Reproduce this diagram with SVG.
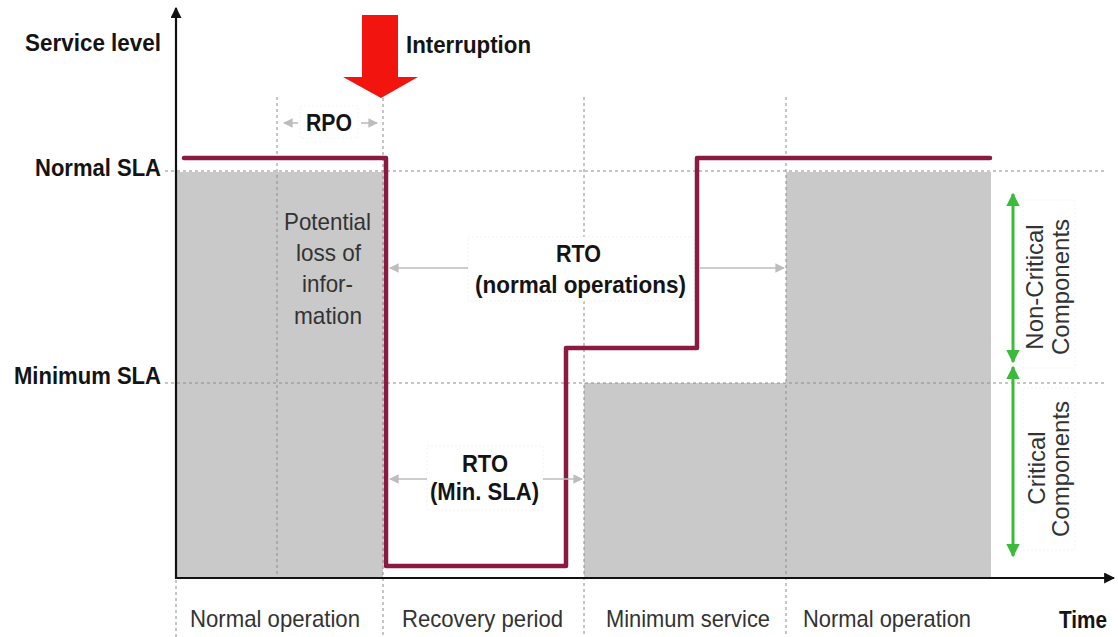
<svg xmlns="http://www.w3.org/2000/svg" width="1118" height="637" viewBox="0 0 1118 637">
  <style>
    text { font-family: "Liberation Sans", Arial, sans-serif; font-size: 24px; }
    .b { font-weight: bold; fill: #141414; }
    .r { fill: #333333; }
    .band { fill: #c9c9c9; }
    .grid { stroke: #8c8c8c; stroke-width: 1; stroke-dasharray: 3 3; fill: none; }
    .box { fill: #ffffff; stroke: #f3f3f3; stroke-width: 1; stroke-dasharray: 2 2; }
    .axis { stroke: #111111; stroke-width: 2.2; fill: none; }
    .span { stroke: #bdbdbd; stroke-width: 1.6; fill: none; }
    .comp { stroke: #3cba3c; stroke-width: 3; fill: none; }
    .level { stroke: #8a1a3e; stroke-width: 4.5; fill: none; stroke-linejoin: round; stroke-linecap: round; }
  </style>
  <defs>
    <marker id="axisHead" viewBox="0 0 10 10" refX="9" refY="5" markerWidth="5" markerHeight="5" orient="auto" markerUnits="strokeWidth">
      <path d="M0,0 L10,5 L0,10 Z" fill="#111111"/>
    </marker>
    <marker id="spanHead" viewBox="0 0 10 10" refX="9" refY="5" markerWidth="6" markerHeight="6" orient="auto" markerUnits="strokeWidth">
      <path d="M0,0 L10,5 L0,10 Z" fill="#bdbdbd"/>
    </marker>
    <marker id="compHead" viewBox="0 0 10 10" refX="9" refY="5" markerWidth="4.5" markerHeight="4.5" orient="auto-start-reverse" markerUnits="strokeWidth">
      <path d="M0,0 L10,5 L0,10 Z" fill="#3cba3c"/>
    </marker>
  </defs>

  <!-- shaded service bands -->
  <g id="bands">
    <rect class="band" x="177" y="172" width="206" height="406"/>
    <rect class="band" x="584" y="383" width="202" height="195"/>
    <rect class="band" x="786" y="172" width="205" height="406"/>
  </g>

  <!-- reference grid -->
  <g id="grid">
    <line class="grid" x1="165" y1="171" x2="1106" y2="171"/>
    <line class="grid" x1="165" y1="383" x2="1106" y2="383"/>
    <line class="grid" x1="277" y1="97" x2="277" y2="578"/>
    <line class="grid" x1="383" y1="98" x2="383" y2="637"/>
    <line class="grid" x1="584" y1="97" x2="584" y2="637"/>
    <line class="grid" x1="786" y1="97" x2="786" y2="637"/>
    <line class="grid" x1="176" y1="580" x2="176" y2="637"/>
  </g>

  <!-- label backgrounds -->
  <g id="label-boxes">
    <rect class="box" x="300" y="106" width="58" height="32"/>
    <rect class="box" x="468" y="237" width="226" height="64"/>
    <rect class="box" x="427" y="446" width="116" height="64"/>
    <rect class="box" x="1023" y="200" width="52" height="168"/>
    <rect class="box" x="1023" y="388" width="52" height="162"/>
  </g>

  <g id="connectors">
    <!-- axes -->
    <line class="axis" x1="176" y1="579" x2="176" y2="8" marker-end="url(#axisHead)"/>
    <line class="axis" x1="175" y1="578" x2="1114" y2="578" marker-end="url(#axisHead)"/>
    <!-- service level over time -->
    <path class="level" d="M184,158 H386 V566 H566 V348 H697 V158 H990"/>
    <!-- RPO span -->
    <line class="span" x1="298" y1="123" x2="284" y2="123" marker-end="url(#spanHead)"/>
    <line class="span" x1="361" y1="123" x2="377" y2="123" marker-end="url(#spanHead)"/>
    <!-- RTO normal operations span -->
    <line class="span" x1="468" y1="268" x2="390" y2="268" marker-end="url(#spanHead)"/>
    <line class="span" x1="700" y1="268" x2="784" y2="268" marker-end="url(#spanHead)"/>
    <!-- RTO minimum SLA span -->
    <line class="span" x1="427" y1="479" x2="390" y2="479" marker-end="url(#spanHead)"/>
    <line class="span" x1="543" y1="479" x2="582" y2="479" marker-end="url(#spanHead)"/>
    <!-- component ranges -->
    <line class="comp" x1="1013" y1="194" x2="1013" y2="362" marker-start="url(#compHead)" marker-end="url(#compHead)"/>
    <line class="comp" x1="1013" y1="367" x2="1013" y2="556" marker-start="url(#compHead)" marker-end="url(#compHead)"/>
  </g>

  <!-- interruption marker -->
  <g id="interruption">
    <polygon points="362,15 398,15 398,77 418,77 381,98 343,77 362,77" fill="#f2140f"/>
    <text class="b" x="406" y="53" textLength="125" lengthAdjust="spacingAndGlyphs">Interruption</text>
  </g>

  <g id="axis-labels">
    <text class="b" x="25" y="51" textLength="136" lengthAdjust="spacingAndGlyphs">Service level</text>
    <text class="b" x="35" y="176" textLength="126" lengthAdjust="spacingAndGlyphs">Normal SLA</text>
    <text class="b" x="14" y="384" textLength="147" lengthAdjust="spacingAndGlyphs">Minimum SLA</text>
    <text class="b" x="1059" y="628" textLength="48" lengthAdjust="spacingAndGlyphs">Time</text>
  </g>

  <g id="rpo">
    <text class="b" x="306" y="131" textLength="46" lengthAdjust="spacingAndGlyphs">RPO</text>
  </g>

  <g id="loss">
    <text class="r" x="284" y="230" textLength="87" lengthAdjust="spacingAndGlyphs">Potential</text>
    <text class="r" x="296" y="261" textLength="65" lengthAdjust="spacingAndGlyphs">loss of</text>
    <text class="r" x="302" y="292" textLength="51" lengthAdjust="spacingAndGlyphs">infor-</text>
    <text class="r" x="294" y="324" textLength="68" lengthAdjust="spacingAndGlyphs">mation</text>
  </g>

  <g id="rto-normal">
    <text class="b" x="556" y="262" textLength="45" lengthAdjust="spacingAndGlyphs">RTO</text>
    <text class="b" x="475" y="293" textLength="211" lengthAdjust="spacingAndGlyphs">(normal operations)</text>
  </g>

  <g id="rto-min">
    <text class="b" x="462" y="472" textLength="46" lengthAdjust="spacingAndGlyphs">RTO</text>
    <text class="b" x="430" y="500" textLength="109" lengthAdjust="spacingAndGlyphs">(Min. SLA)</text>
  </g>

  <g id="phases">
    <text class="r" x="190" y="627" textLength="170" lengthAdjust="spacingAndGlyphs">Normal operation</text>
    <text class="r" x="402" y="627" textLength="161" lengthAdjust="spacingAndGlyphs">Recovery period</text>
    <text class="r" x="606" y="627" textLength="164" lengthAdjust="spacingAndGlyphs">Minimum service</text>
    <text class="r" x="803" y="627" textLength="168" lengthAdjust="spacingAndGlyphs">Normal operation</text>
  </g>

  <g id="non-critical">
    <text class="r" text-anchor="middle" transform="translate(1043,287) rotate(-90)">Non-Critical</text>
    <text class="r" text-anchor="middle" transform="translate(1069,287) rotate(-90)">Components</text>
  </g>

  <g id="critical">
    <text class="r" text-anchor="middle" transform="translate(1045,468) rotate(-90)">Critical</text>
    <text class="r" text-anchor="middle" transform="translate(1069,469) rotate(-90)">Components</text>
  </g>
</svg>
